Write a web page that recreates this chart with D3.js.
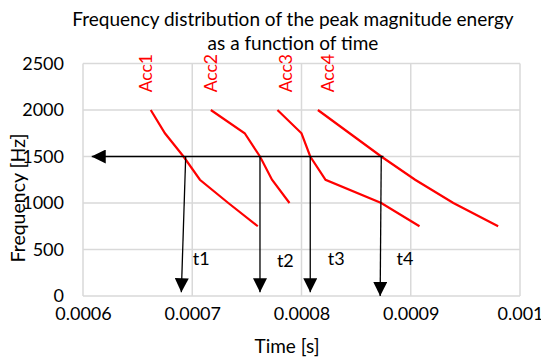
<!DOCTYPE html>
<html>
<head>
<meta charset="utf-8">
<script src="https://cdn.jsdelivr.net/npm/d3@7"></script>
<style>
  body { margin: 0; background: #fff; }
  text { font-family: Lato, "Open Sans", sans-serif; }
</style>
</head>
<body>
<div id="chart"></div>
<script>
// time [s] and frequency [Hz] for each accelerometer curve
const acc1 = [[0.000662, 2000], [0.000675, 1750], [0.000692, 1500], [0.000707, 1250], [0.000733, 1000], [0.00076, 750]];
const acc2 = [[0.000717, 2000], [0.000748, 1750], [0.000762, 1500], [0.000773, 1250], [0.000789, 1000]];
const acc3 = [[0.000778, 2000], [0.0008, 1750], [0.000808, 1500], [0.000822, 1250], [0.000873, 1000], [0.000908, 750]];
const acc4 = [[0.000815, 2000], [0.000844, 1750], [0.000873, 1500], [0.000904, 1250], [0.000939, 1000], [0.00098, 750]];
const series = [acc1, acc2, acc3, acc4];

const seriesNames = ["Acc1", "Acc2", "Acc3", "Acc4"];
const seriesLabelPos = [[0.000663, 2190], [0.000723, 2190], [0.000791, 2190], [0.00083, 2190]];

// threshold arrows: horizontal at 1500 Hz, then down to each crossing time
const hArrow = [[0.000875, 1500], [0.000608, 1500]];
const vArrows = [
  [[0.000694, 1500], [0.000690, 40]],
  [[0.000762, 1500], [0.000762, 40]],
  [[0.000808, 1500], [0.000808, 40]],
  [[0.000873, 1500], [0.000872, 0]]
];
const tNames = ["t1", "t2", "t3", "t4"];
const tLabelPos = [[0.0007005, 333], [0.0007775, 310], [0.000824, 333], [0.000887, 333]];

const xTicks = [0.0006, 0.0007, 0.0008, 0.0009, 0.001];
const yTicks = [0, 500, 1000, 1500, 2000, 2500];

const width = 541, height = 360;
const margin = { top: 63.5, right: 21, bottom: 64, left: 83 };

const svg = d3.select("#chart").append("svg")
  .attr("width", width)
  .attr("height", height);

const x = d3.scaleLinear().domain([0.0006, 0.001]).range([margin.left, width - margin.right]);
const y = d3.scaleLinear().domain([0, 2500]).range([height - margin.bottom, margin.top]);

// grid
svg.append("g")
  .selectAll("line.v")
  .data(xTicks)
  .join("line")
  .attr("x1", d => x(d)).attr("x2", d => x(d))
  .attr("y1", y(0)).attr("y2", y(2500))
  .attr("stroke", "#d9d9d9").attr("stroke-width", 1.5);

svg.append("g")
  .selectAll("line.h")
  .data(yTicks)
  .join("line")
  .attr("x1", x(0.0006)).attr("x2", x(0.001))
  .attr("y1", d => y(d)).attr("y2", d => y(d))
  .attr("stroke", "#d9d9d9").attr("stroke-width", 1.5);

// axes (labels only, lines come from grid)
const xAxis = d3.axisBottom(x).tickValues(xTicks).tickSize(0).tickPadding(11)
  .tickFormat(d => String(+d.toPrecision(3)));
const gx = svg.append("g")
  .attr("transform", `translate(0,${y(0)})`)
  .call(xAxis);
gx.select(".domain").remove();
gx.selectAll("text").attr("font-size", 18).attr("fill", "#000").attr("font-family", "Lato, sans-serif");

const yAxis = d3.axisLeft(y).tickValues(yTicks).tickSize(0).tickPadding(19)
  .tickFormat(d => String(d));
const gy = svg.append("g")
  .attr("transform", `translate(${x(0.0006)},0)`)
  .call(yAxis);
gy.select(".domain").remove();
gy.selectAll("text").attr("font-size", 18).attr("fill", "#000").attr("font-family", "Lato, sans-serif");

// red curves
const line = d3.line().x(d => x(d[0])).y(d => y(d[1]));
svg.append("g")
  .selectAll("path")
  .data(series)
  .join("path")
  .attr("d", line)
  .attr("fill", "none")
  .attr("stroke", "#ff0000")
  .attr("stroke-width", 2.2);

// arrow marker
svg.append("defs").append("marker")
  .attr("id", "arrow")
  .attr("viewBox", "0 0 10 10")
  .attr("refX", 10).attr("refY", 5)
  .attr("markerWidth", 14).attr("markerHeight", 14)
  .attr("markerUnits", "userSpaceOnUse")
  .attr("orient", "auto")
  .append("path")
  .attr("d", "M0,0L10,5L0,10Z")
  .attr("fill", "#000");

const arrows = [hArrow, ...vArrows];
svg.append("g")
  .selectAll("path")
  .data(arrows)
  .join("path")
  .attr("d", line)
  .attr("fill", "none")
  .attr("stroke", "#000")
  .attr("stroke-width", 1.3)
  .attr("marker-end", "url(#arrow)");

// series labels, rotated
svg.append("g")
  .selectAll("text")
  .data(seriesNames)
  .join("text")
  .attr("transform", (d, i) => `translate(${x(seriesLabelPos[i][0])},${y(seriesLabelPos[i][1])}) rotate(-90)`)
  .attr("fill", "#ff0000")
  .attr("font-size", 17.5)
  .text(d => d);

// t labels
svg.append("g")
  .selectAll("text")
  .data(tNames)
  .join("text")
  .attr("x", (d, i) => x(tLabelPos[i][0]))
  .attr("y", (d, i) => y(tLabelPos[i][1]))
  .attr("font-size", 18)
  .attr("fill", "#000")
  .text(d => d);

// title
const title = svg.append("text")
  .attr("text-anchor", "middle")
  .attr("font-size", 19)
  .attr("fill", "#000");
title.append("tspan").attr("x", 293).attr("y", 26).text("Frequency distribution of the peak magnitude energy");
title.append("tspan").attr("x", 293).attr("y", 50).text("as a function of time");

// axis titles
svg.append("text")
  .attr("x", 287).attr("y", 353)
  .attr("text-anchor", "middle")
  .attr("font-size", 19)
  .text("Time [s]");

svg.append("text")
  .attr("transform", "translate(25,198) rotate(-90)")
  .attr("text-anchor", "middle")
  .attr("font-size", 19.5)
  .text("Frequency [Hz]");
</script>
</body>
</html>
